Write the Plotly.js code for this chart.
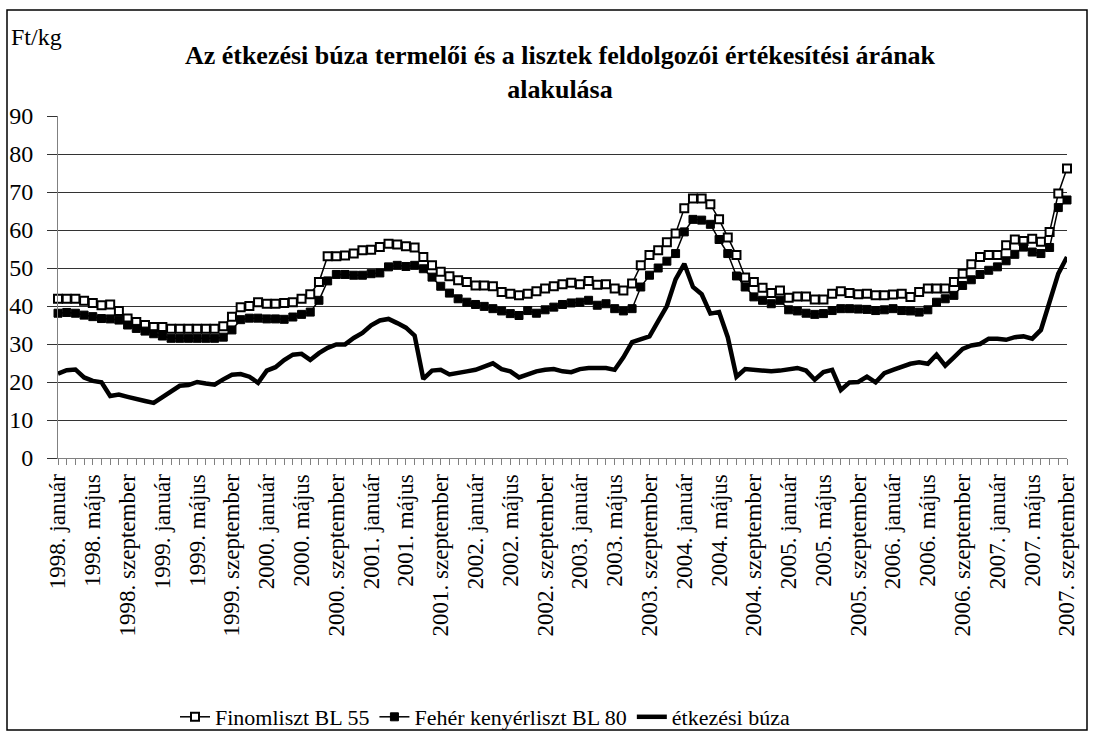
<!DOCTYPE html>
<html>
<head>
<meta charset="utf-8">
<script src="https://cdn.plot.ly/plotly-3.0.1.min.js"></script>
<style>
  html, body { margin: 0; padding: 0; background: #fff; }
  #chart { width: 1094px; height: 736px; }
</style>
</head>
<body>
<div id="chart"></div>
<script>
const years = ['1998', '1999', '2000', '2001', '2002', '2003', '2004', '2005', '2006', '2007'];
const months = ['január', 'február', 'március', 'április', 'május', 'június',
                'július', 'augusztus', 'szeptember', 'október', 'november', 'december'];
const lastMonthCount = 9; // 2007: január – szeptember

const categories = [];
years.forEach((y, yi) => {
  const n = (yi === years.length - 1) ? lastMonthCount : 12;
  for (let m = 0; m < n; m++) categories.push(y + '. ' + months[m]);
});

// Finomliszt BL 55 (Ft/kg)
const finomliszt = [
  41.9, 41.9, 41.9, 41.4, 40.8, 40.2, 40.4, 38.7, 36.7, 35.8, 35.0, 34.5,
  34.5, 34.0, 34.0, 34.0, 34.0, 34.0, 34.0, 34.7, 37.2, 39.7, 40.0, 41.0,
  40.6, 40.6, 40.8, 41.0, 41.9, 43.1, 46.3, 53.1, 53.1, 53.3, 53.8, 54.7,
  54.8, 55.5, 56.4, 56.2, 55.7, 55.4, 52.9, 50.7, 49.0, 47.8, 46.8,
  46.3, 45.4, 45.4, 45.2, 43.7, 43.2, 42.8, 43.2, 43.9, 44.6, 45.2, 45.7,
  46.1, 45.7, 46.6, 45.6, 45.7, 44.6, 44.1, 45.9, 50.7, 53.4, 54.7, 56.8,
  59.1, 65.7, 68.3, 68.3, 66.8, 62.8, 58.0, 53.4, 47.5, 46.3, 44.8, 43.4,
  44.1, 42.2, 42.5, 42.5, 41.7, 41.7, 43.2, 43.9, 43.4, 43.1, 43.2,
  42.8, 42.8, 43.0, 43.2, 42.4, 43.7, 44.6, 44.6, 44.6, 46.3, 48.5, 51.0,
  52.9, 53.4, 53.4, 56.0, 57.5, 57.1, 57.7, 56.9, 59.5, 69.6, 76.2
];

// Fehér kenyérliszt BL 80 (Ft/kg)
const feherKenyerliszt = [
  38.1, 38.3, 38.1, 37.6, 37.2, 36.7, 36.6, 36.3, 35.0, 34.1, 33.4, 32.7,
  32.1, 31.5, 31.5, 31.5, 31.5, 31.5, 31.5, 31.8, 33.7, 36.4, 36.8, 36.8,
  36.6, 36.6, 36.5, 37.1, 37.8, 38.4, 41.5, 46.6, 48.3, 48.3, 48.1, 48.1,
  48.5, 48.7, 50.3, 50.7, 50.4, 50.7, 49.8, 47.6, 45.2, 43.4, 41.9,
  41.0, 40.4, 39.9, 39.3, 38.7, 38.0, 37.5, 38.8, 38.1, 39.0, 39.7, 40.4,
  40.8, 41.0, 41.5, 40.2, 40.6, 39.3, 38.7, 39.3, 45.0, 48.1, 50.0, 51.8,
  53.8, 59.5, 62.8, 62.6, 61.5, 57.5, 53.8, 47.9, 45.0, 42.4, 41.5, 40.6,
  41.5, 39.0, 38.7, 38.1, 37.8, 38.0, 38.8, 39.3, 39.3, 39.2, 39.1,
  38.8, 39.0, 39.3, 38.8, 38.7, 38.4, 39.0, 41.0, 41.9, 42.8, 45.4, 46.9,
  48.3, 49.4, 50.3, 51.9, 53.6, 55.5, 54.2, 53.8, 55.4, 65.9, 67.9
];

// étkezési búza (Ft/kg)
const etkezesiBuza = [
  22.2, 23.1, 23.3, 21.2, 20.3, 19.9, 16.3, 16.7, 16.1, 15.4, 15.0, 14.5,
  16.1, 17.7, 19.0, 19.2, 20.0, 19.6, 19.3, 20.7, 21.9, 22.1, 21.4, 19.8,
  23.0, 23.9, 25.8, 27.2, 27.4, 25.8, 27.6, 29.0, 29.9, 29.9, 31.6, 32.9,
  34.9, 36.2, 36.6, 35.5, 34.3, 32.2, 20.8, 23.0, 23.2, 22.0, 22.3,
  22.8, 23.2, 24.1, 24.9, 23.4, 22.8, 21.2, 22.0, 22.8, 23.2, 23.4, 22.8,
  22.6, 23.4, 23.7, 23.7, 23.7, 23.2, 26.5, 30.5, 31.1, 32.0, 36.0, 40.0,
  47.0, 51.1, 45.0, 43.1, 38.0, 38.4, 31.8, 21.4, 23.4, 23.2, 23.0, 22.8,
  23.0, 23.4, 23.7, 23.0, 20.6, 22.6, 23.2, 17.9, 19.9, 20.0, 21.4,
  19.9, 22.3, 23.2, 24.1, 24.8, 25.2, 24.8, 27.2, 24.3, 26.5, 28.7, 29.6,
  30.0, 31.4, 31.4, 31.1, 31.8, 32.0, 31.4, 33.7, 41.5, 48.5, 52.9
];

const labelStep = 4;
const tickText = categories.map((c, i) => (i % labelStep === 0 ? c : ''));

const FONT = 'Liberation Serif, Times New Roman, serif';

const traces = [
  {
    x: categories, y: finomliszt, name: 'Finomliszt BL 55',
    type: 'scatter', mode: 'lines+markers', cliponaxis: false,
    line: { color: '#000', width: 1.5 },
    marker: { symbol: 'square', size: 8, color: '#fff', line: { color: '#000', width: 2 } }
  },
  {
    x: categories, y: feherKenyerliszt, name: 'Fehér kenyérliszt BL 80',
    type: 'scatter', mode: 'lines+markers', cliponaxis: false,
    line: { color: '#000', width: 1.5 },
    marker: { symbol: 'square', size: 8, color: '#000', line: { color: '#000', width: 1 } }
  },
  {
    x: categories, y: etkezesiBuza, name: 'étkezési búza',
    type: 'scatter', mode: 'lines', cliponaxis: false,
    line: { color: '#000', width: 4.5 }
  }
];

// plot area in pixels
const L = 58, R = 27, T = 116, B = 278, W = 1094, H = 736;
const pw = W - L - R, ph = H - T - B;
const px = (x) => (x - L) / pw;
const py = (y) => (H - B - y) / ph;

const layout = {
  width: W, height: H,
  margin: { l: L, r: R, t: T, b: B, pad: 0, autoexpand: false },
  paper_bgcolor: '#fff', plot_bgcolor: '#fff',
  font: { family: FONT, size: 22, color: '#000' },
  showlegend: true,
  legend: {
    orientation: 'h', x: px(175), xanchor: 'left', y: py(717), yanchor: 'middle',
    font: { family: FONT, size: 22, color: '#000' },
    bgcolor: 'rgba(0,0,0,0)', itemclick: false, tracegroupgap: 0
  },
  xaxis: {
    type: 'category', range: [0, categories.length - 1],
    tickmode: 'array', tickvals: categories, ticktext: tickText,
    tickangle: -90, ticks: 'outside', ticklen: 6, tickcolor: '#808080', tickwidth: 1,
    showline: true, linecolor: '#808080', linewidth: 1,
    showgrid: false, zeroline: false, automargin: false,
    tickfont: { family: FONT, size: 23, color: '#000' },
    fixedrange: true
  },
  yaxis: {
    range: [0, 90], dtick: 10, tick0: 0,
    ticks: 'outside', ticklen: 10, tickcolor: '#333', tickwidth: 1,
    ticklabelstandoff: 9,
    showgrid: true, gridcolor: '#333', gridwidth: 1,
    showline: true, linecolor: '#808080', linewidth: 1,
    zeroline: false, automargin: false,
    tickfont: { family: FONT, size: 24, color: '#000' },
    fixedrange: true
  },
  title: {
    text: '<b>Az étkezési búza termelői és a lisztek feldolgozói értékesítési árának<br>alakulása</b>',
    font: { family: FONT, size: 26, color: '#000' },
    x: px(560), xref: 'paper', xanchor: 'center',
    y: 1 - 64 / H, yref: 'container', yanchor: 'middle'
  },
  annotations: [
    {
      text: 'Ft/kg', xref: 'paper', yref: 'paper',
      x: px(9), y: py(37), xanchor: 'left', yanchor: 'middle',
      showarrow: false, font: { family: FONT, size: 24, color: '#000' }
    }
  ],
  shapes: [
    {
      type: 'rect', xref: 'paper', yref: 'paper', layer: 'below',
      x0: px(7), x1: px(1087), y0: py(730), y1: py(10),
      line: { color: '#000', width: 1.5 }, fillcolor: 'rgba(0,0,0,0)'
    }
  ]
};

Plotly.newPlot('chart', traces, layout, { displayModeBar: false, staticPlot: true });
</script>
</body>
</html>
